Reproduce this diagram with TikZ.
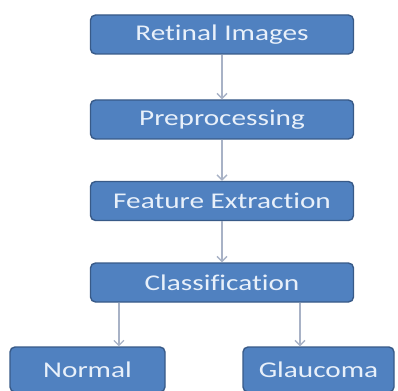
\documentclass[tikz,border=0pt]{standalone}
\usepackage{fontspec}
\setmainfont{Carlito}[Ligatures=NoCommon]
\usetikzlibrary{calc,arrows.meta}
\definecolor{boxblue}{RGB}{80,129,192}
\definecolor{boxedge}{RGB}{56,90,136}
\definecolor{boxtext}{RGB}{232,240,250}
\definecolor{flowgray}{RGB}{168,178,198}
\newcommand{\widetext}[1]{\raisebox{-2.5pt}{\scalebox{1.3}[1]{#1}}}
\tikzset{
  stage/.style={rectangle,rounded corners=5pt,draw=boxedge,line width=1.4pt,fill=boxblue,
    text=boxtext,minimum height=39pt,inner sep=0pt,font=\fontsize{22.5}{26}\selectfont},
  outcome/.style={stage,minimum height=45pt},
  flow/.style={draw=flowgray,line width=1.3pt,-{Straight Barb[length=5pt,width=10pt]}}
}
\begin{document}
\begin{tikzpicture}[x=1pt,y=-1pt]
\useasboundingbox (0,0) rectangle (398,390);
\clip (0,0) rectangle (398,390);
\foreach \n/\y/\t in {img/34.5/Retinal Images,pre/119.5/Preprocessing,fex/201/Feature Extraction,cls/282.5/Classification}{\node[stage,minimum width=263pt] (\n) at (222,\y) {\widetext{\t}};}
\node[outcome,minimum width=155pt] (nrm) at (87.5,369.5) {\widetext{Normal}};
\node[outcome,minimum width=151pt] (gla) at (318.5,369.5) {\widetext{Glaucoma}};
\draw[flow] (img)--(pre);
\draw[flow] (pre)--(fex);
\draw[flow] (fex)--(cls);
\coordinate (cl) at ($(cls.south west)!0.11!(cls.south east)$);
\coordinate (cr) at ($(cls.south west)!0.795!(cls.south east)$);
\draw[flow] (cl)--(cl |- nrm.north);
\draw[flow] (cr)--(cr |- gla.north);
\end{tikzpicture}
\end{document}
